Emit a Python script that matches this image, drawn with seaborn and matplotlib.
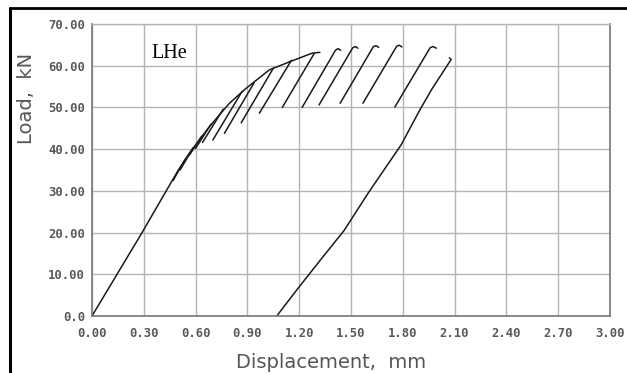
import matplotlib
matplotlib.use("Agg")
import matplotlib.pyplot as plt
from matplotlib.lines import Line2D
import numpy as np
import pandas as pd
import seaborn as sns

# Monotonic loading branch (mm, kN)
envelope_disp = [0.00, 0.29, 0.43, 0.50, 0.585, 0.68, 0.796, 0.893, 1.027, 1.13, 1.23, 1.275, 1.32]
envelope_load = [0.0, 20.0, 30.0, 35.0, 40.2, 45.4, 51.0, 54.6, 59.0, 60.7, 62.3, 63.0, 63.2]

# Unload/reload cycles that rejoin the loading branch
loop_valley_disp = [0.47, 0.51, 0.525, 0.565, 0.60, 0.64, 0.70, 0.767, 0.864, 0.969, 1.102]
loop_valley_load = [32.5, 35.0, 36.6, 38.6, 40.2, 41.6, 42.2, 43.8, 46.3, 48.6, 50.0]
loop_peak_disp = [0.52, 0.56, 0.585, 0.635, 0.69, 0.76, 0.87, 0.94, 1.05, 1.155, 1.288]
loop_peak_load = [36.2, 38.5, 40.3, 43.1, 46.0, 49.6, 53.9, 56.0, 59.4, 61.3, 63.0]

# Later cycles, each ending in a short hook at the top
hook_valley_disp = [1.217, 1.315, 1.437, 1.569, 1.754]
hook_valley_load = [50.0, 50.6, 51.0, 51.0, 50.1]
hook_peak_disp = [1.41, 1.51, 1.63, 1.765, 1.958]
hook_peak_load = [63.7, 64.3, 64.6, 64.7, 64.3]
hook_top_disp = [1.425, 1.525, 1.645, 1.78, 1.975]
hook_top_load = [64.1, 64.6, 64.8, 64.9, 64.6]
hook_end_disp = [1.44, 1.54, 1.66, 1.795, 1.995]
hook_end_load = [63.7, 64.2, 64.4, 64.5, 64.2]

# Final unloading branch
final_disp = [2.07, 2.08, 1.97, 1.90, 1.79, 1.60, 1.46, 1.33, 1.20, 1.07]
final_load = [61.9, 61.5, 54.5, 49.5, 41.0, 29.5, 20.5, 13.8, 7.0, 0.0]

x_ticks = [0.0, 0.3, 0.6, 0.9, 1.2, 1.5, 1.8, 2.1, 2.4, 2.7, 3.0]
x_tick_labels = ["0.00", "0.30", "0.60", "0.90", "1.20", "1.50",
                 "1.80", "2.10", "2.40", "2.70", "3.00"]
y_ticks = [0, 10, 20, 30, 40, 50, 60, 70]
y_tick_labels = ["0.0", "10.00", "20.00", "30.00", "40.00", "50.00", "60.00", "70.00"]

# Assemble all branches into one long table, one id per polyline
rows = []
seg = 0
for d, l in zip(envelope_disp, envelope_load):
    rows.append((seg, d, l))
seg += 1
for i in range(len(loop_valley_disp)):
    rows.append((seg, loop_valley_disp[i], loop_valley_load[i]))
    rows.append((seg, loop_peak_disp[i], loop_peak_load[i]))
    seg += 1
for i in range(len(hook_valley_disp)):
    rows.append((seg, hook_valley_disp[i], hook_valley_load[i]))
    rows.append((seg, hook_peak_disp[i], hook_peak_load[i]))
    rows.append((seg, hook_top_disp[i], hook_top_load[i]))
    rows.append((seg, hook_end_disp[i], hook_end_load[i]))
    seg += 1
for d, l in zip(final_disp, final_load):
    rows.append((seg, d, l))
df = pd.DataFrame(rows, columns=["segment", "disp", "load"])

sns.set_style("white")
fig = plt.figure(figsize=(6.27, 3.73), dpi=100)
fig.patch.set_facecolor("white")
ax = fig.add_axes([92 / 627, 1 - 316 / 373, 518 / 627, 292 / 373])

sns.lineplot(data=df, x="disp", y="load", units="segment", estimator=None,
             sort=False, color="#1a1a1a", linewidth=1.1, ax=ax)

ax.set_xlim(0, 3.0)
ax.set_ylim(0, 70)
ax.set_xticks(x_ticks)
ax.set_xticklabels(x_tick_labels)
ax.set_yticks(y_ticks)
ax.set_yticklabels(y_tick_labels)
ax.grid(True, color="#b4b4b4", linewidth=1.0)
ax.set_axisbelow(True)
for side, sp in ax.spines.items():
    sp.set_visible(True)
    sp.set_color("#777777")
    sp.set_linewidth(1.2)
ax.spines["top"].set_color("#b4b4b4")
ax.spines["top"].set_linewidth(1.0)

for lab in ax.get_xticklabels() + ax.get_yticklabels():
    lab.set_fontfamily("DejaVu Sans Mono")
    lab.set_fontweight("bold")
    lab.set_fontsize(8.8)
    lab.set_color("#5a5a5a")
ax.tick_params(axis="y", direction="out", length=3, width=1, color="#777777", pad=2)
ax.tick_params(axis="x", direction="inout", length=4, width=1.5, color="#555555", pad=6)

ax.set_xlabel("Displacement,  mm", fontsize=14, color="#555555",
              fontfamily="DejaVu Sans")
ax.xaxis.set_label_coords(0.461, -0.125)
ax.set_ylabel("Load,  kN", fontsize=14, color="#555555", fontfamily="DejaVu Sans")
ax.yaxis.set_label_coords(-0.108, 0.745)

ax.text(0.347, 62.9, "LHe", fontsize=14.5, color="black",
        fontfamily="Liberation Serif", va="center", ha="left")

# Dark frame along the left and top edges of the figure
fig.add_artist(Line2D([10 / 627, 10 / 627], [0, 1 - 8 / 373], color="black",
                      linewidth=2.2, transform=fig.transFigure))
fig.add_artist(Line2D([10 / 627, 1], [1 - 8 / 373, 1 - 8 / 373], color="black",
                      linewidth=2.0, transform=fig.transFigure))

fig.savefig("out.png", dpi=100, facecolor="white")
